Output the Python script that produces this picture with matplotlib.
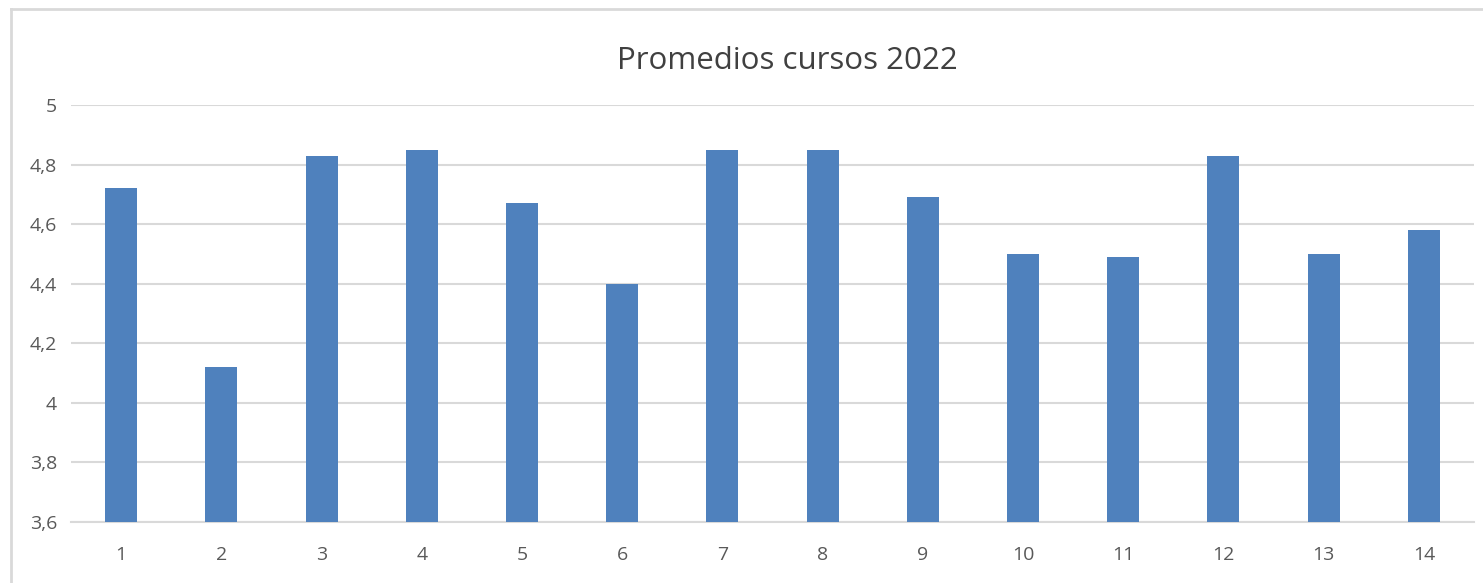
import matplotlib
matplotlib.use("Agg")
import matplotlib.pyplot as plt
from matplotlib.lines import Line2D

# datos del grafico
cursos = ["1", "2", "3", "4", "5", "6", "7", "8", "9", "10", "11", "12", "13", "14"]
promedios = [4.72, 4.12, 4.83, 4.85, 4.67, 4.40, 4.85, 4.85, 4.69, 4.50, 4.49, 4.83, 4.50, 4.58]
y_ticks = [3.6, 3.8, 4.0, 4.2, 4.4, 4.6, 4.8, 5.0]
y_labels = ["3,6", "3,8", "4", "4,2", "4,4", "4,6", "4,8", "5"]
titulo = "Promedios cursos 2022"

plt.rcParams['font.family'] = ['Open Sans', 'DejaVu Sans']

fig = plt.figure(figsize=(14.83, 5.83), dpi=100)
ax = fig.add_axes([71 / 1483, 1 - 522 / 583, (1474 - 71) / 1483, (522 - 105) / 583])

x = list(range(len(cursos)))
ax.bar(x, promedios, width=0.32, color='#4f81bd', zorder=3)

ax.set_xlim(-0.5, len(cursos) - 0.5)
ax.set_ylim(3.6, 5.0)
ax.set_xticks(x)
ax.set_xticklabels(cursos)
ax.set_yticks(y_ticks)
ax.set_yticklabels(y_labels)
ax.tick_params(axis='both', length=0, labelsize=14, labelcolor='#595959')
ax.tick_params(axis='x', pad=17)
ax.tick_params(axis='y', pad=10)

ax.grid(axis='y', color='#d9d9d9', linewidth=1.5, zorder=0)
for s in ['top', 'right', 'left']:
    ax.spines[s].set_visible(False)
ax.spines['bottom'].set_color('#d9d9d9')
ax.spines['bottom'].set_linewidth(1.5)

fig.text(787 / 1483, 1 - 61 / 583, titulo, ha='center', va='center',
         fontsize=22.5, color='#404040')

# borde del area del grafico
fig.add_artist(Line2D([11 / 1483, 11 / 1483], [0, 1 - 9 / 583], color='#d9d9d9', linewidth=2))
fig.add_artist(Line2D([11 / 1483, 1], [1 - 9 / 583, 1 - 9 / 583], color='#d9d9d9', linewidth=2))

fig.savefig('out.png', dpi=100)
